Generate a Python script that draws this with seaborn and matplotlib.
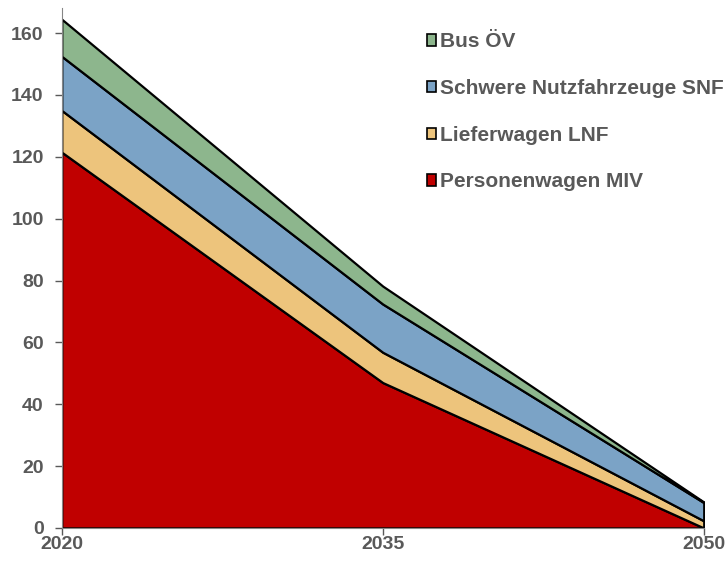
import matplotlib
matplotlib.use("Agg")
import matplotlib.pyplot as plt
import seaborn as sns
from matplotlib.patches import Patch

years = [2020, 2035, 2050]
miv = [121.5, 47.0, 0.0]
lnf = [13.5, 9.8, 2.3]
snf = [17.5, 15.6, 5.9]
bus = [12.0, 5.8, 0.2]

labels = ["Personenwagen MIV", "Lieferwagen LNF", "Schwere Nutzfahrzeuge SNF", "Bus ÖV"]
colors = ["#C00000", "#EDC47C", "#7BA3C6", "#8DB68D"]

sns.set_style("white")
plt.rcParams["font.family"] = ["Liberation Sans", "DejaVu Sans"]
grey = "#595959"

fig, ax = plt.subplots(figsize=(7.27, 5.61), dpi=100)
fig.subplots_adjust(left=0.085, right=0.968, bottom=0.059, top=0.985)

ax.stackplot(years, miv, lnf, snf, bus, colors=colors, edgecolor="black", linewidth=1.6)

ax.set_xlim(2020, 2050)
ax.set_ylim(0, 168)
ax.set_xticks(years)
ax.set_yticks(range(0, 161, 20))
ax.tick_params(axis="both", colors=grey, labelsize=14, length=5, width=1, direction="out",
               bottom=True, left=True)
for lab in ax.get_xticklabels() + ax.get_yticklabels():
    lab.set_fontweight("bold")
ax.tick_params(axis="x", pad=1)
ax.tick_params(axis="y", pad=8)

sns.despine(ax=ax)
ax.spines["left"].set_color("#868686")
ax.spines["bottom"].set_color("#868686")

handles = [Patch(facecolor=c, edgecolor="black", linewidth=1.2) for c in colors][::-1]
leg = ax.legend(handles, labels[::-1], loc="upper left", bbox_to_anchor=(0.546, 0.982),
                frameon=False, handlelength=0.45, handleheight=0.45, handletextpad=0.2,
                labelspacing=1.33, borderaxespad=0.3, prop={"weight": "bold", "size": 15})
for t in leg.get_texts():
    t.set_color(grey)

plt.savefig("out.png", dpi=100)
